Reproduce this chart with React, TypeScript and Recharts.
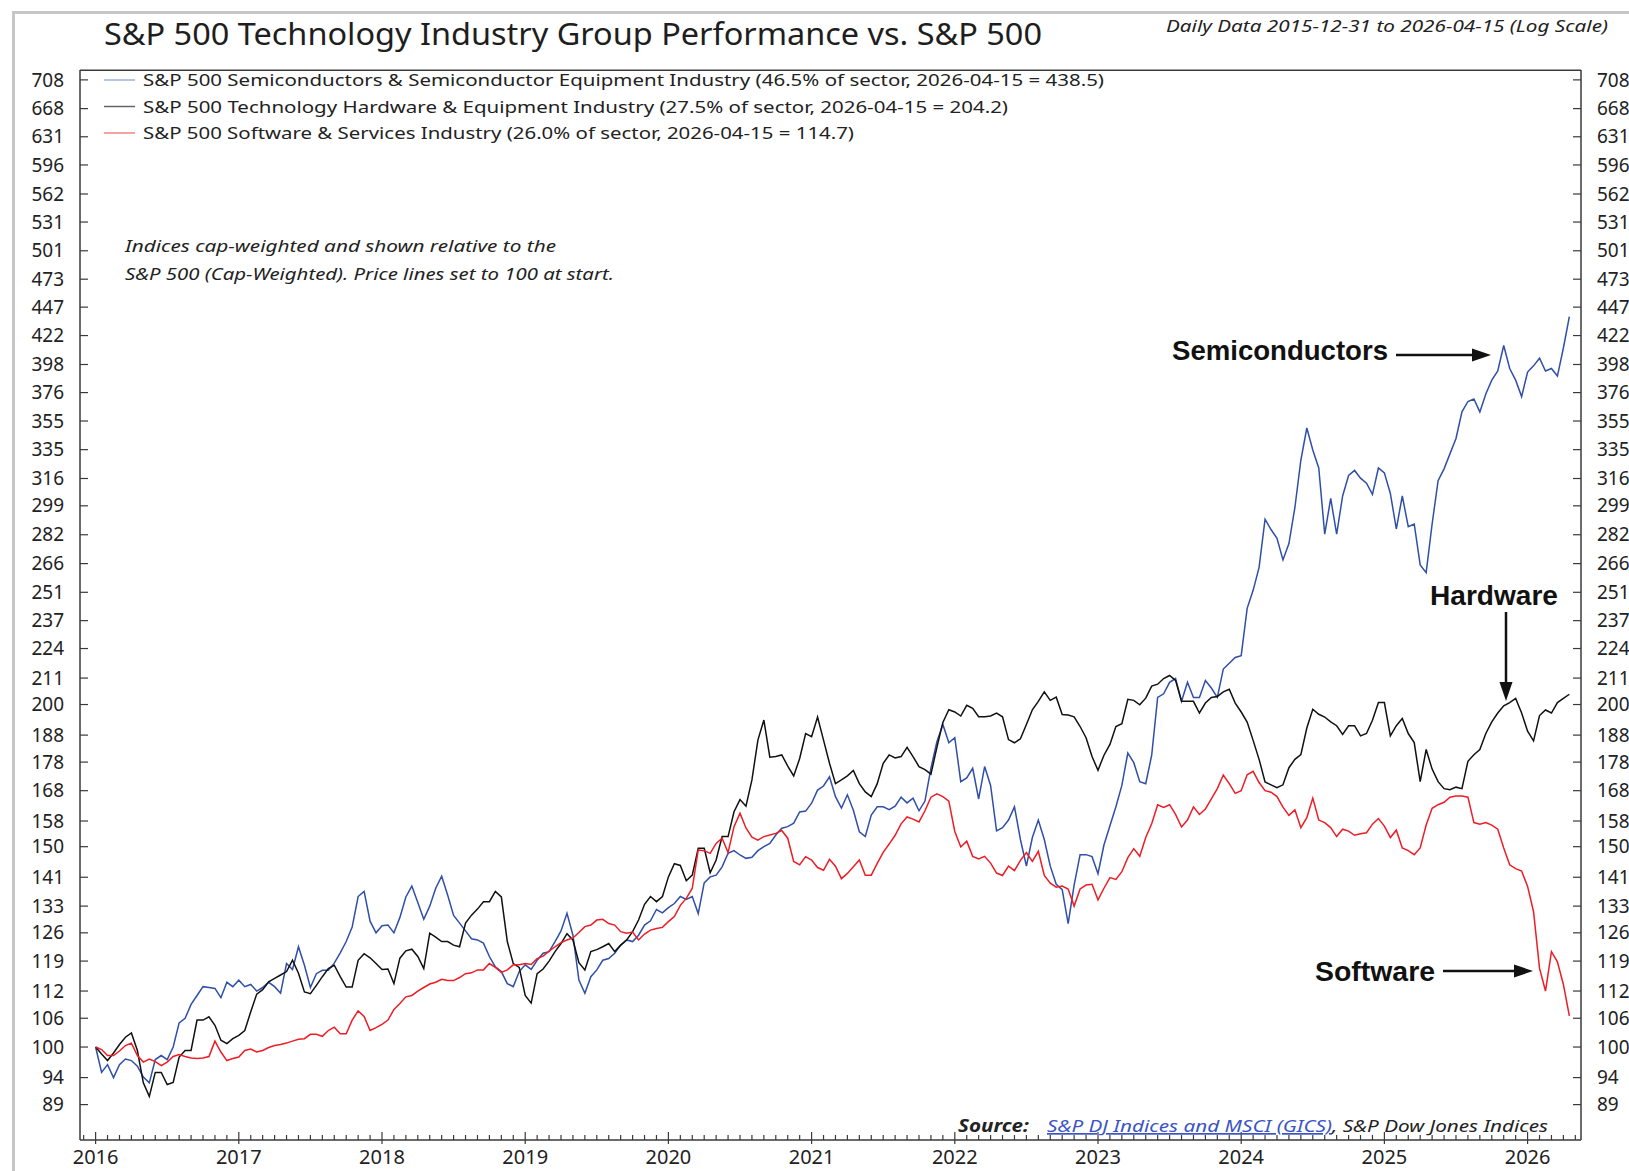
import React from 'react';
import { LineChart, Line, XAxis, YAxis, ReferenceLine } from 'recharts';

const W = 1629;
const H = 1171;

// semi-monthly sample dates (1st and 16th of each month), 2016-01 .. 2026-04
const dates: string[] = [];
for (let y = 2016; y <= 2026; y++) {
  for (let m = 1; m <= 12; m++) {
    if (y === 2026 && m > 4) break;
    const mm = String(m).padStart(2, '0');
    dates.push(`${y}-${mm}-01`, `${y}-${mm}-16`);
  }
}

// relative to S&P 500, start = 100
const semis = [
  100, 95, 96.5, 94, 96.5, 97.6, 97.3, 96.2, 94.1, 93, 97.5, 98.3, 97.5, 100, 105, 106, 109, 111, 113, 112.8, 112.6, 110.5, 114, 113,
  114.5, 113, 113.5, 112, 112.8, 114, 113, 111.5, 118.4, 117, 122.5, 118, 112.8, 116, 116.8, 116.8, 118.5, 121, 123.8, 127.5, 135.6, 137, 129, 126,
  127.8, 128, 126, 130, 135.5, 138.5, 134, 129.5, 133, 137.9, 141.3, 136, 130.5, 128.5, 126.5, 124.5, 124.2, 123.4, 120.1, 117.6, 116.5, 113.7, 113.0, 116.5,
  118.1, 117.0, 119.2, 120.9, 121.3, 123.8, 126.5, 131.1, 125.4, 114.5, 111.5, 115.3, 116.9, 119.2, 119.6, 120.9, 122.9, 124.2, 123.8, 125.4, 128.0, 129.1, 132.1, 131.2,
  132.6, 133.7, 135.6, 134.8, 135.6, 131, 139.4, 141.1, 141.6, 144.0, 148.0, 148.8, 147.5, 146.5, 146.8, 148.8, 150.0, 151.0, 153.6, 155.7, 156.2, 157.3, 160.9, 161.2,
  163.8, 168.2, 169.6, 172.8, 166.0, 162.2, 166.6, 161.5, 154.6, 153.1, 159.9, 162.6, 162.6, 161.7, 162.8, 165.8, 163.9, 165.5, 161.3, 164.5, 175.8, 185.5, 192.1, 185.1,
  187.0, 171.1, 172.4, 175.8, 165.2, 176.4, 169.8, 154.9, 155.9, 158.3, 162.6, 152.2, 144.2, 152.8, 158.3, 152.2, 144.2, 139.0, 137.5, 128.4, 138.8, 147.6, 147.6, 147.0,
  142.0, 150.5, 156.5, 162.6, 169.8, 181.3, 177.8, 171.1, 170.4, 180.5, 202.9, 204.4, 209.2, 210.8, 201.3, 209.2, 202.9, 202.9, 210.0, 206.8, 202.9, 214.9, 217.4, 220.0,
  220.8, 243, 252, 264, 291, 285, 280, 268, 277, 298, 328, 350, 334.8, 322.8, 282.3, 303.5, 282.3, 305.0, 317.9, 321.2, 316.2, 313.0, 306.0, 322.8,
  319.6, 306.6, 285.3, 305.0, 286.7, 288.2, 265.3, 261.2, 288.2, 314.6, 322.2, 332.3, 342.7, 361.6, 369.3, 371.2, 361.6, 375.0, 385.6, 392.8, 413.6, 394.8, 385.6, 373.0,
  392.0, 396.9, 403.1, 392.8, 394.8, 388.8, 411.5, 438.5,
];

const hardware = [
  100, 98.6, 97.3, 98.8, 100.5, 102, 102.9, 99.3, 93, 90.5, 95.0, 95.0, 92.7, 93.1, 98.0, 99.3, 99.3, 105.6, 105.6, 106.3, 104.5, 101.4, 100.7, 101.7,
  102.4, 103.4, 107.4, 111.3, 112.3, 114.1, 114.9, 115.7, 116.5, 119.2, 116.1, 111.8, 111.4, 113.3, 115.3, 117.2, 118.0, 115.3, 112.9, 112.9, 119.2, 120.8, 119.8, 118.4,
  117.0, 117.1, 113.7, 119.7, 121.5, 121.9, 120.1, 117.2, 125.9, 124.9, 123.8, 123.8, 122.9, 122.5, 128.5, 130.6, 132.2, 134.2, 134.2, 137.0, 135.5, 123.8, 118.4, 117.5,
  111, 109.3, 116, 117.1, 119, 121.3, 123.3, 125.8, 124.2, 118.6, 116.9, 121.3, 121.8, 122.5, 123.3, 121.3, 122.9, 124.2, 126.3, 129.3, 133.5, 135.6, 134.2, 135.6,
  141.1, 144.9, 144.4, 140.0, 141.6, 149.5, 149.5, 142.3, 146.0, 153.1, 153.1, 161.0, 165.0, 162.8, 171.7, 186.1, 193.8, 179.8, 180.0, 180.6, 176.6, 173.1, 179.3, 188.6,
  187.4, 195, 186.1, 177.6, 170.4, 171.7, 173.1, 175, 170.4, 167.6, 166.0, 170.4, 177.6, 180.6, 179.5, 180.0, 183.4, 180.0, 176.4, 175.3, 173.7, 183.4, 192.9, 197.9,
  197.0, 195.4, 199.7, 198.5, 195.1, 195.1, 195.4, 196.6, 195.1, 186.3, 185.1, 186.6, 192.1, 197.9, 201.3, 205.2, 201.7, 203, 196, 195.8, 195.1, 191.3, 187.0, 180.0,
  175.1, 180.5, 184.5, 191.3, 192.4, 202.1, 201.7, 199.9, 202.6, 207.6, 208.4, 210.8, 212.1, 210.0, 201.3, 201.3, 201.3, 196.6, 200.6, 202.9, 203.3, 205.2, 206.3, 200.6,
  197, 193, 186, 179, 171, 170, 169, 170, 176, 179, 180.7, 190.7, 198.1, 196.1, 195.0, 193.1, 191.6, 188.3, 191.6, 191.6, 187.7, 188.6, 193.7, 200.8,
  200.8, 187.7, 191.6, 194.4, 188.6, 185.2, 171.1, 182.6, 175.5, 171.1, 168.7, 168.3, 169.2, 168.7, 178.3, 180.7, 182.6, 188.6, 193.1, 196.6, 199.5, 200.8, 202.5, 196.6,
  189.5, 185.8, 195.6, 197.8, 196.6, 200.8, 202.5, 204.2,
];

const software = [
  100, 99.5, 98.3, 98.3, 99.2, 100.3, 100.8, 98.3, 97.0, 97.6, 97.1, 96.3, 97.0, 98.1, 98.5, 98.1, 97.8, 97.7, 97.8, 98.1, 101.2, 99.0, 97.3, 97.7,
  98.0, 99.3, 99.6, 99.0, 99.3, 99.9, 100.3, 100.5, 100.8, 101.2, 101.6, 101.7, 102.6, 102.6, 102.2, 103.4, 104.1, 102.7, 102.7, 105.6, 107.6, 106.4, 103.4, 104.0,
  104.7, 105.6, 107.9, 109.2, 110.7, 111.0, 112.0, 112.8, 113.6, 114.0, 114.7, 114.4, 114.4, 115.1, 116.0, 116.2, 116.9, 116.9, 118.4, 117.5, 116.3, 116.9, 118.1, 118.1,
  118.4, 118.2, 119.6, 120.2, 121.4, 122.5, 123.5, 124.2, 124.7, 126.1, 127.6, 128.0, 129.3, 129.5, 128.4, 128.0, 126.3, 125.9, 126.2, 124.2, 125.7, 126.7, 127.1, 127.4,
  128.9, 130.2, 133.2, 135.1, 137.9, 149.0, 148.8, 148.0, 151.0, 152.6, 148.2, 156.2, 160.5, 155.8, 152.9, 152.0, 153.1, 153.6, 154.1, 155.0, 152.6, 145.6, 144.6, 147.0,
  146.0, 143.8, 143.0, 146.2, 144.2, 140.6, 142.1, 144.0, 146.0, 141.6, 141.6, 145.0, 148.3, 150.8, 153.5, 157.1, 159.3, 158.6, 157.7, 161.3, 165.8, 166.9, 166.0, 164.5,
  154.7, 149.9, 151.7, 147.1, 146.3, 147.1, 145.1, 142.2, 141.5, 144.2, 142.9, 145.9, 148.2, 145.6, 148.6, 141.5, 139.3, 138.2, 138.5, 137.7, 133.0, 137.7, 138.8, 139.0,
  134.7, 137.9, 140.9, 140.4, 142.6, 146.7, 149.4, 147.1, 152.8, 157.1, 163.3, 162.4, 163.3, 160.1, 156.1, 158.3, 162.6, 160.1, 161.9, 165.2, 168.7, 173.4, 170.4, 167.1,
  168, 173.5, 174.7, 170.8, 168, 167.5, 166, 162.5, 159.8, 161.6, 155.9, 159.1, 165.5, 158.3, 157.5, 155.9, 153.1, 155.4, 154.8, 153.5, 154.0, 154.3, 157.0, 158.8,
  156.4, 152.8, 155.1, 149.6, 148.8, 147.6, 149.6, 156.7, 162.1, 163.3, 164.1, 165.8, 166.2, 166.2, 165.8, 157.5, 157.0, 157.5, 156.7, 155.4, 149.6, 144.6, 143.5, 142.8,
  138.4, 131.5, 117.3, 112.0, 121.3, 118.8, 113.5, 106.5,
];

const yTicks = [89, 94, 100, 106, 112, 119, 126, 133, 141, 150, 158, 168, 178, 188, 200, 211, 224, 237, 251, 266, 282, 299, 316, 335, 355, 376, 398, 422, 447, 473, 501, 531, 562, 596, 631, 668, 708];

const series = [
  { key: 'semis', color: '#2f4fa8', swatch: '#9fb0dc', label: 'S&P 500 Semiconductors & Semiconductor Equipment Industry (46.5% of sector, 2026-04-15 = 438.5)', width: 961 },
  { key: 'hardware', color: '#111111', swatch: '#666666', label: 'S&P 500 Technology Hardware & Equipment Industry (27.5% of sector, 2026-04-15 = 204.2)', width: 865 },
  { key: 'software', color: '#ee1c25', swatch: '#f08585', label: 'S&P 500 Software & Services Industry (26.0% of sector, 2026-04-15 = 114.7)', width: 711 },
];

const toYear = (d: string) => {
  const [y, m, day] = d.split('-').map(Number);
  return y + (m - 1) / 12 + (day >= 16 ? 1 / 24 : 0);
};

const rows = dates.map((d, i) => ({
  t: toYear(d),
  semis: semis[i],
  hardware: hardware[i],
  software: software[i],
}));

const monthTicks: number[] = [];
for (let y = 2015; y <= 2026; y++) {
  for (let m = 0; m < 12; m++) {
    const t = y + m / 12;
    if (t >= 2015.9 && t <= 2026.36) monthTicks.push(t);
  }
}

const AXIS = '#3a3a3a';
const FONT = '"Noto Sans", sans-serif';
const Y_DOMAIN: [number, number] = [82.85, 722.3];

const XTick = (props: any) => {
  const { x, y, payload } = props;
  const v = payload.value;
  const major = Math.abs(v - Math.round(v)) < 1e-6;
  return (
    <g>
      <line x1={x} x2={x} y1={y - (major ? 8 : 5)} y2={y + (major ? 4 : 0)} stroke={AXIS} strokeWidth={1.2} />
      {major && (
        <text x={x} y={y + 24} textAnchor="middle" fontSize={20} fill="#222" fontFamily={FONT}>
          {Math.round(v)}
        </text>
      )}
    </g>
  );
};

const YTickLeft = (props: any) => {
  const { x, y, payload } = props;
  return (
    <g>
      <line x1={x} x2={x + 8} y1={y} y2={y} stroke={AXIS} strokeWidth={1.2} />
      <text x={x - 16} y={y} dy="0.35em" textAnchor="end" fontSize={19} fill="#222" fontFamily={FONT}>
        {payload.value}
      </text>
    </g>
  );
};

const YTickRight = (props: any) => {
  const { x, y, payload } = props;
  return (
    <g>
      <line x1={x - 8} x2={x} y1={y} y2={y} stroke={AXIS} strokeWidth={1.2} />
      <text x={x + 16} y={y} dy="0.35em" textAnchor="start" fontSize={19} fill="#222" fontFamily={FONT}>
        {payload.value}
      </text>
    </g>
  );
};

const Overlay = () => (
  <svg width={W} height={H} style={{ position: 'absolute', left: 0, top: 0, pointerEvents: 'none' }} fontFamily={FONT}>
    {/* outer frame */}
    <path d={`M13.5 ${H} V12.5 H${W}`} fill="none" stroke="#c6c6c6" strokeWidth={3} />

    <text x={104} y={45} fontSize={31} fill="#1e1e1e" textLength={938} lengthAdjust="spacingAndGlyphs">
      {'S&P 500 Technology Industry Group Performance vs. S&P 500'}
    </text>
    <text x={1166} y={32} fontSize={17} fontStyle="italic" fill="#222" textLength={442} lengthAdjust="spacingAndGlyphs">
      {'Daily Data 2015-12-31 to 2026-04-15 (Log Scale)'}
    </text>

    {series.map((s, i) => (
      <g key={s.key}>
        <line x1={104} x2={135} y1={80 + i * 26.5} y2={80 + i * 26.5} stroke={s.swatch} strokeWidth={1.5} />
        <text x={143} y={86 + i * 26.5} fontSize={17} fill="#222" textLength={s.width} lengthAdjust="spacingAndGlyphs">
          {s.label}
        </text>
      </g>
    ))}

    <g fontSize={17} fontStyle="italic" fill="#222">
      <text x={125} y={252} textLength={431} lengthAdjust="spacingAndGlyphs">Indices cap-weighted and shown relative to the</text>
      <text x={125} y={280} textLength={489} lengthAdjust="spacingAndGlyphs">{'S&P 500 (Cap-Weighted). Price lines set to 100 at start.'}</text>
    </g>

    <g fontFamily='"Liberation Sans", Arial, sans-serif' fontWeight="bold" fontSize={27} fill="#111">
      <text x={1172} y={360} textLength={216} lengthAdjust="spacingAndGlyphs">Semiconductors</text>
      <text x={1430} y={605} textLength={128} lengthAdjust="spacingAndGlyphs">Hardware</text>
      <text x={1315} y={981} textLength={120} lengthAdjust="spacingAndGlyphs">Software</text>
    </g>
    <g stroke="#111" strokeWidth={2.5} fill="#111">
      <line x1={1396} x2={1476} y1={355} y2={355} />
      <polygon points="1491,355 1472,348.5 1472,361.5" stroke="none" />
      <line x1={1506} x2={1506} y1={612} y2={686} />
      <polygon points="1506,701 1499.5,682 1512.5,682" stroke="none" />
      <line x1={1443} x2={1518} y1={971} y2={971} />
      <polygon points="1533,971 1514,964.5 1514,977.5" stroke="none" />
    </g>

    <g fontSize={17} fontStyle="italic" fill="#222">
      <text x={958} y={1132} fontWeight="bold" textLength={71} lengthAdjust="spacingAndGlyphs">Source:</text>
      <text x={1047} y={1132} fill="#3b55c4" textDecoration="underline" textLength={285} lengthAdjust="spacingAndGlyphs">
        {'S&P DJ Indices and MSCI (GICS)'}
      </text>
      <text x={1332} y={1132} textLength={216} lengthAdjust="spacingAndGlyphs">{', S&P Dow Jones Indices'}</text>
    </g>
  </svg>
);

export default function App() {
  return (
    <div style={{ position: 'absolute', left: 0, top: 0, width: W, height: H, background: '#fff' }}>
      <LineChart width={W} height={H} data={rows} margin={{ top: 70, right: 0, bottom: 0, left: 0 }} style={{ fontFamily: FONT }}>
        <XAxis
          dataKey="t"
          type="number"
          domain={[2015.891, 2026.373]}
          allowDataOverflow
          ticks={monthTicks}
          interval={0}
          tick={XTick}
          tickLine={false}
          tickSize={0}
          tickMargin={0}
          height={31}
          axisLine={{ stroke: AXIS, strokeWidth: 1.5 }}
        />
        <YAxis
          yAxisId="left"
          scale="log"
          domain={Y_DOMAIN}
          allowDataOverflow
          ticks={yTicks}
          interval={0}
          tick={YTickLeft}
          tickLine={false}
          tickSize={0}
          tickMargin={0}
          width={80}
          axisLine={{ stroke: AXIS, strokeWidth: 1.5 }}
        />
        <YAxis
          yAxisId="right"
          orientation="right"
          scale="log"
          domain={Y_DOMAIN}
          allowDataOverflow
          ticks={yTicks}
          interval={0}
          tick={YTickRight}
          tickLine={false}
          tickSize={0}
          tickMargin={0}
          width={48}
          axisLine={{ stroke: AXIS, strokeWidth: 1.5 }}
        />
        <ReferenceLine yAxisId="left" y={722} stroke={AXIS} strokeWidth={1.5} ifOverflow="extendDomain" />
        <Line yAxisId="left" dataKey="semis" stroke={series[0].color} strokeWidth={1.5} dot={false} isAnimationActive={false} />
        <Line yAxisId="right" dataKey="hardware" stroke={series[1].color} strokeWidth={1.5} dot={false} isAnimationActive={false} />
        <Line yAxisId="left" dataKey="software" stroke={series[2].color} strokeWidth={1.5} dot={false} isAnimationActive={false} />
      </LineChart>
      <Overlay />
    </div>
  );
}
